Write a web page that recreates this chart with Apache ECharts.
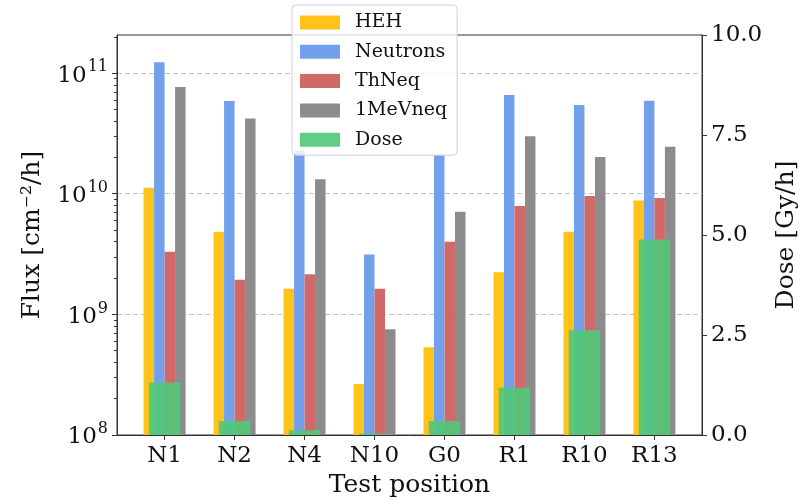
<!DOCTYPE html>
<html>
<head>
<meta charset="utf-8">
<style>
  html, body { margin: 0; padding: 0; background: #fff; }
  #chart { width: 809px; height: 500px; }
</style>
<script src="https://cdn.jsdelivr.net/npm/echarts@6/dist/echarts.min.js"></script>
</head>
<body>
<div id="chart"></div>
<script>
// Test positions and measured rates
const categories = ['N1', 'N2', 'N4', 'N10', 'G0', 'R1', 'R10', 'R13'];
const heh      = [1.12e10, 4.84e9, 1.63e9, 2.65e8, 5.33e8, 2.23e9, 4.84e9, 8.8e9];
const neutrons = [1.23e11, 5.86e10, 2.26e10, 3.14e9, 2.09e10, 6.58e10, 5.43e10, 5.9e10];
const thneq    = [3.3e9, 1.94e9, 2.15e9, 1.63e9, 4.0e9, 7.9e9, 9.6e9, 9.2e9];
const mevneq   = [7.66e10, 4.21e10, 1.32e10, 7.52e8, 7.1e9, 2.99e10, 2.02e10, 2.45e10];
const dose     = [1.31, 0.35, 0.12, 0.03, 0.35, 1.18, 2.62, 4.89];

// Axis ranges and tick labels
const fluxMin = 1e8;
const fluxMax = 2.07e11;
const fluxTicks = [1e8, 1e9, 1e10, 1e11];
const doseTicks = [0, 2.5, 5, 7.5, 10];
const xRange = [-0.68, 7.68];

const FONT = 'DejaVu Serif';
const log10 = Math.log10;

// Flux is plotted on a decade scale: axis values are log10 of the rate
const fluxMinorTicks = [];
for (let e = 8; e <= 11; e++) {
  for (let k = 2; k <= 9; k++) {
    const v = k * Math.pow(10, e);
    if (v < fluxMax) fluxMinorTicks.push(log10(v));
  }
}

const toPoints = arr => arr.map((v, i) => [i, log10(v)]);

const fluxSeries = [
  { name: 'HEH', data: heh, color: '#FFC31A' },
  { name: 'Neutrons', data: neutrons, color: '#73A0EB' },
  { name: 'ThNeq', data: thneq, color: '#D26969' },
  { name: '1MeVneq', data: mevneq, color: '#8C8C8C' }
].map(s => ({
  name: s.name,
  type: 'bar',
  xAxisIndex: 0,
  yAxisIndex: 0,
  barWidth: 10.5,
  barGap: '0%',
  itemStyle: { color: s.color },
  data: toPoints(s.data)
}));

const doseSeries = {
  name: 'Dose',
  type: 'bar',
  xAxisIndex: 1,
  yAxisIndex: 1,
  barWidth: 31.5,
  itemStyle: { color: '#50C878', opacity: 0.9 },
  z: 3,
  data: dose.map((v, i) => [i, v])
};

const chart = echarts.init(document.getElementById('chart'), null, { renderer: 'canvas' });

chart.setOption({
  animation: false,
  textStyle: { fontFamily: FONT },
  grid: {
    left: 117, right: 107, top: 35, bottom: 65,
    outerBoundsMode: 'none',
    containLabel: false,
    show: true, borderColor: '#333', borderWidth: 1, backgroundColor: 'transparent'
  },
  legend: {
    orient: 'vertical',
    left: 292,
    top: 5,
    padding: [8, 10, 6, 8],
    itemWidth: 40,
    itemHeight: 14,
    itemGap: 10.3,
    icon: 'rect',
    backgroundColor: 'rgba(255,255,255,0.8)',
    borderColor: '#d0d0d0',
    borderWidth: 1,
    borderRadius: 4,
    textStyle: { fontFamily: FONT, fontSize: 19, color: '#111', padding: [0, 0, 0, 10] },
    data: ['HEH', 'Neutrons', 'ThNeq', '1MeVneq', 'Dose']
  },
  xAxis: [
    {
      type: 'value',
      min: xRange[0],
      max: xRange[1],
      name: 'Test position',
      nameLocation: 'middle',
      nameGap: 38,
      nameTextStyle: { fontFamily: FONT, fontSize: 25, color: '#111' },
      axisLine: { onZero: false, lineStyle: { color: '#333', width: 1 } },
      axisTick: { show: true, length: 5, lineStyle: { color: '#333' }, customValues: categories.map((c, i) => i) },
      axisLabel: {
        customValues: categories.map((c, i) => i),
        formatter: v => categories[Math.round(v)],
        margin: 10,
        fontFamily: FONT, fontSize: 23, color: '#111'
      },
      splitLine: { show: false }
    },
    {
      type: 'value',
      min: xRange[0],
      max: xRange[1],
      show: false,
      axisLine: { onZero: false }
    }
  ],
  yAxis: [
    {
      type: 'value',
      position: 'left',
      min: log10(fluxMin),
      max: log10(fluxMax),
      name: 'Flux [cm⁻²/h]',
      nameLocation: 'middle',
      nameGap: 72,
      nameRotate: 90,
      nameTextStyle: { fontFamily: FONT, fontSize: 25, color: '#111' },
      axisLine: { show: true, onZero: false, lineStyle: { color: '#333', width: 1 } },
      axisTick: { show: true, length: 5, lineStyle: { color: '#333' }, customValues: fluxTicks.map(log10) },
      axisLabel: {
        customValues: fluxTicks.map(log10),
        formatter: v => '{b|10}{s|' + Math.round(v) + '}',
        margin: 9,
        rich: {
          b: { fontFamily: FONT, fontSize: 23, color: '#111', lineHeight: 28, verticalAlign: 'bottom' },
          s: { fontFamily: FONT, fontSize: 16, color: '#111', lineHeight: 28, verticalAlign: 'top', padding: [0, 0, 0, 1] }
        }
      },
      splitLine: { show: true, lineStyle: { color: '#c4c4c4', width: 1, type: [5, 3] } }
    },
    {
      type: 'value',
      position: 'right',
      min: doseTicks[0],
      max: doseTicks[doseTicks.length - 1],
      interval: 2.5,
      name: 'Dose [Gy/h]',
      nameLocation: 'middle',
      nameGap: 72,
      nameRotate: 90,
      nameTextStyle: { fontFamily: FONT, fontSize: 25, color: '#111' },
      axisLine: { show: true, onZero: false, lineStyle: { color: '#333', width: 1 } },
      axisTick: { show: true, length: 5, lineStyle: { color: '#333' } },
      axisLabel: { formatter: v => v.toFixed(1), margin: 9, fontFamily: FONT, fontSize: 23, color: '#111' },
      splitLine: { show: false }
    },
    {
      // minor decade ticks on the flux axis
      type: 'value',
      position: 'left',
      min: log10(fluxMin),
      max: log10(fluxMax),
      axisLine: { show: false, onZero: false },
      axisLabel: { show: false },
      splitLine: { show: false },
      axisTick: { show: true, length: 3, lineStyle: { color: '#333' }, customValues: fluxMinorTicks }
    }
  ],
  series: [...fluxSeries, doseSeries]
});
</script>
</body>
</html>
